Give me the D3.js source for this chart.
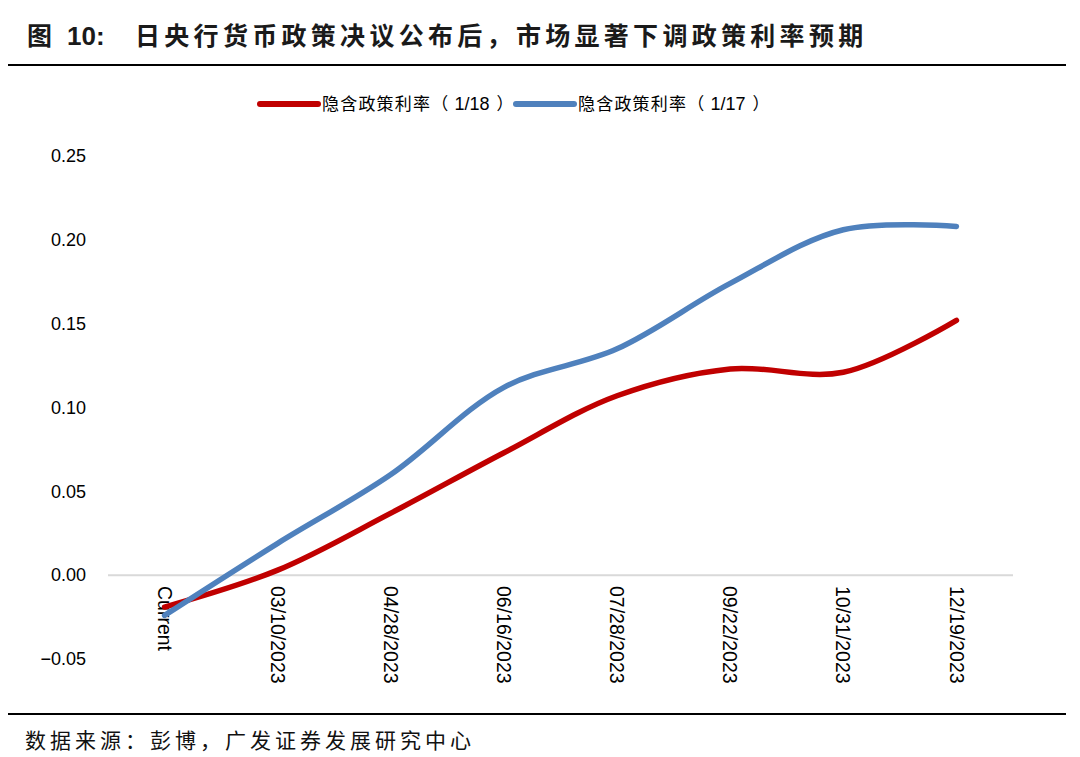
<!DOCTYPE html>
<html>
<head>
<meta charset="utf-8">
<script src="https://cdn.jsdelivr.net/npm/d3@7"></script>
<style>
  body { margin: 0; background: #fff; }
  svg { display: block; }
</style>
</head>
<body>
<div id="chart"></div>
<script>
// categories and series
const categories = ["Current", "03/10/2023", "04/28/2023", "06/16/2023", "07/28/2023", "09/22/2023", "10/31/2023", "12/19/2023"];
const rate0118 = [-0.019, 0.003, 0.037, 0.073, 0.107, 0.123, 0.121, 0.152];
const rate0117 = [-0.024, 0.019, 0.060, 0.112, 0.135, 0.174, 0.206, 0.208];
const yTicks = [-0.05, 0.00, 0.05, 0.10, 0.15, 0.20, 0.25];
const seriesNames = ["隐含政策利率（1/18）", "隐含政策利率（1/17）"];
const seriesColors = ["#C00000", "#4F81BD"];

const width = 1080, height = 757;
const svg = d3.select("#chart").append("svg")
  .attr("width", width)
  .attr("height", height);

// title + rules
const title = svg.append("text")
  .attr("y", 45)
  .attr("font-family", "'Noto Sans CJK SC', sans-serif")
  .attr("font-weight", "bold")
  .attr("font-size", 25)
  .attr("fill", "#1a1a1a");
title.append("tspan").attr("x", 27).text("图");
title.append("tspan").attr("x", 67)
  .attr("font-family", "'Liberation Sans', Arial, sans-serif")
  .attr("font-size", 26)
  .text("10:");
title.append("tspan")
  .attr("x", 135)
  .attr("letter-spacing", 4.3)
  .text("日央行货币政策决议公布后，市场显著下调政策利率预期");

svg.append("line")
  .attr("x1", 8).attr("x2", 1066).attr("y1", 65).attr("y2", 65)
  .attr("stroke", "#000").attr("stroke-width", 2);

svg.append("line")
  .attr("x1", 8).attr("x2", 1066).attr("y1", 714).attr("y2", 714)
  .attr("stroke", "#000").attr("stroke-width", 2);

svg.append("text")
  .attr("x", 25).attr("y", 748)
  .attr("font-family", "'Noto Sans CJK SC', sans-serif")
  .attr("font-size", 21)
  .attr("letter-spacing", 4)
  .attr("fill", "#111")
  .text("数据来源：彭博，广发证券发展研究中心");

// scales
const x = d3.scalePoint()
  .domain(categories)
  .range([108, 1013])
  .padding(0.5);

const y = d3.scaleLinear()
  .domain([-0.05, 0.25])
  .range([659, 156]);

// y labels (no axis line)
svg.append("g")
  .selectAll("text")
  .data(yTicks)
  .enter().append("text")
  .attr("x", 86)
  .attr("y", d => y(d))
  .attr("dy", "0.35em")
  .attr("text-anchor", "end")
  .attr("font-family", "'Liberation Sans', Arial, sans-serif")
  .attr("font-size", 18)
  .attr("fill", "#000")
  .text(d => d3.format(".2f")(d));

// zero line
svg.append("line")
  .attr("x1", 108).attr("x2", 1013)
  .attr("y1", y(0)).attr("y2", y(0))
  .attr("stroke", "#D9D9D9").attr("stroke-width", 2);

// x labels rotated
svg.append("g")
  .selectAll("text")
  .data(categories)
  .enter().append("text")
  .attr("transform", d => `translate(${x(d)},586) rotate(90)`)
  .attr("dy", "0.35em")
  .attr("font-family", "'Liberation Sans', Arial, sans-serif")
  .attr("font-size", 19.5)
  .attr("fill", "#000")
  .text(d => d);

// lines
const line = d3.line()
  .x((d, i) => x(categories[i]))
  .y(d => y(d))
  .curve(d3.curveCatmullRom.alpha(0.5));

[rate0118, rate0117].forEach((s, i) => {
  svg.append("path")
    .datum(s)
    .attr("fill", "none")
    .attr("stroke", seriesColors[i])
    .attr("stroke-width", 5.5)
    .attr("stroke-linecap", "round")
    .attr("d", line);
});

// legend
const legendX = [260, 516];
seriesNames.forEach((name, i) => {
  const g = svg.append("g").attr("transform", `translate(${legendX[i]},104)`);
  g.append("line")
    .attr("x1", 0).attr("x2", 58)
    .attr("stroke", seriesColors[i])
    .attr("stroke-width", 6)
    .attr("stroke-linecap", "round");
  const parts = name.match(/^(.*（)(.*)(）)$/);
  const t = g.append("text")
    .attr("x", 62)
    .attr("dy", "0.35em")
    .attr("font-family", "'Noto Sans CJK SC', sans-serif")
    .attr("font-size", 17)
    .attr("fill", "#000");
  t.append("tspan").attr("letter-spacing", 1.2).text(parts[1]);
  t.append("tspan")
    .attr("dx", 5)
    .attr("font-family", "'Liberation Sans', Arial, sans-serif")
    .attr("font-size", 18)
    .text(parts[2]);
  t.append("tspan").attr("dx", 7).text(parts[3]);
});
</script>
</body>
</html>
